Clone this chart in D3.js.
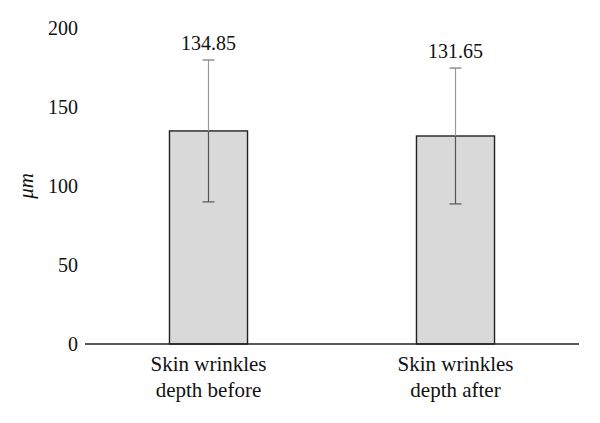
<!DOCTYPE html>
<html>
<head>
<meta charset="utf-8">
<script src="https://cdn.jsdelivr.net/npm/d3@7"></script>
<style>
  body { margin: 0; background: #fff; }
</style>
</head>
<body>
<div class="container"></div>
<script>
let width = 600;
let height = 423;

// data
const categories = [['Skin wrinkles', 'depth before'], ['Skin wrinkles', 'depth after']];
const means = [134.85, 131.65];
const sds = [44.9, 43.0];
const yTicks = [0, 50, 100, 150, 200];

const margin = {left: 85, right: 21, top: 28, bottom: 79};
const font = '"Liberation Serif", "DejaVu Serif", serif';
const fs = 20;

const svg = d3.select('.container')
    .append('svg')
    .attr('width', width)
    .attr('height', height)
    .attr('font-family', font)
    .attr('font-size', fs);

let x = d3.scaleBand()
    .domain(d3.range(categories.length))
    .range([margin.left, width - margin.right])
    .paddingInner(0.684)
    .paddingOuter(0.342);

let y = d3.scaleLinear()
    .domain([0, 200])
    .range([height - margin.bottom, margin.top]);

// y tick labels, no axis line
svg.append('g')
    .attr('transform', 'translate(' + margin.left + ',0)')
    .call(d3.axisLeft(y).tickValues(yTicks).tickSize(0).tickPadding(7))
    .attr('font-family', font)
    .attr('font-size', fs)
    .call(g => g.select('.domain').remove())
    .selectAll('text')
    .attr('fill', '#111');

// y title
svg.append('text')
    .attr('transform', 'translate(33,' + y(100) + ') rotate(-90)')
    .attr('text-anchor', 'middle')
    .attr('font-style', 'italic')
    .attr('font-size', 21)
    .attr('fill', '#111')
    .text('μm');

// bars
svg.selectAll('rect.bar')
    .data(means)
    .enter()
    .append('rect')
    .attr('class', 'bar')
    .attr('x', (d, i) => x(i))
    .attr('y', d => y(d))
    .attr('width', x.bandwidth())
    .attr('height', d => y(0) - y(d))
    .attr('fill', '#d9d9d9')
    .attr('stroke', '#222')
    .attr('stroke-width', 1.4);

// error bars
let err = svg.selectAll('g.err')
    .data(means)
    .enter()
    .append('g')
    .attr('class', 'err')
    .attr('transform', (d, i) => 'translate(' + (x(i) + x.bandwidth() / 2) + ',0)');

err.append('line')
    .attr('y1', (d, i) => y(d + sds[i]))
    .attr('y2', (d, i) => y(d))
    .attr('stroke', '#999')
    .attr('stroke-width', 1.2);

err.append('line')
    .attr('y1', d => y(d))
    .attr('y2', (d, i) => y(d - sds[i]))
    .attr('stroke', '#555')
    .attr('stroke-width', 1.2);

[1, -1].forEach(s => {
    err.append('line')
        .attr('x1', -6).attr('x2', 6)
        .attr('y1', (d, i) => y(d + s * sds[i]))
        .attr('y2', (d, i) => y(d + s * sds[i]))
        .attr('stroke', s > 0 ? '#777' : '#555')
        .attr('stroke-width', 1.2);
});

// value labels
err.append('text')
    .attr('y', (d, i) => y(d + sds[i]) - 10)
    .attr('text-anchor', 'middle')
    .attr('fill', '#111')
    .text(d => d.toFixed(2));

// x axis line
svg.append('line')
    .attr('x1', margin.left)
    .attr('x2', width - margin.right)
    .attr('y1', y(0))
    .attr('y2', y(0))
    .attr('stroke', '#222')
    .attr('stroke-width', 1.5);

// category labels
let cat = svg.selectAll('text.cat')
    .data(categories)
    .enter()
    .append('text')
    .attr('class', 'cat')
    .attr('text-anchor', 'middle')
    .attr('font-size', 21)
    .attr('fill', '#111');

cat.selectAll('tspan')
    .data((d, i) => d.map(t => ({t: t, i: i})))
    .enter()
    .append('tspan')
    .attr('x', d => x(d.i) + x.bandwidth() / 2)
    .attr('y', (d, j) => y(0) + 27 + j * 26)
    .text(d => d.t);
</script>
</body>
</html>
